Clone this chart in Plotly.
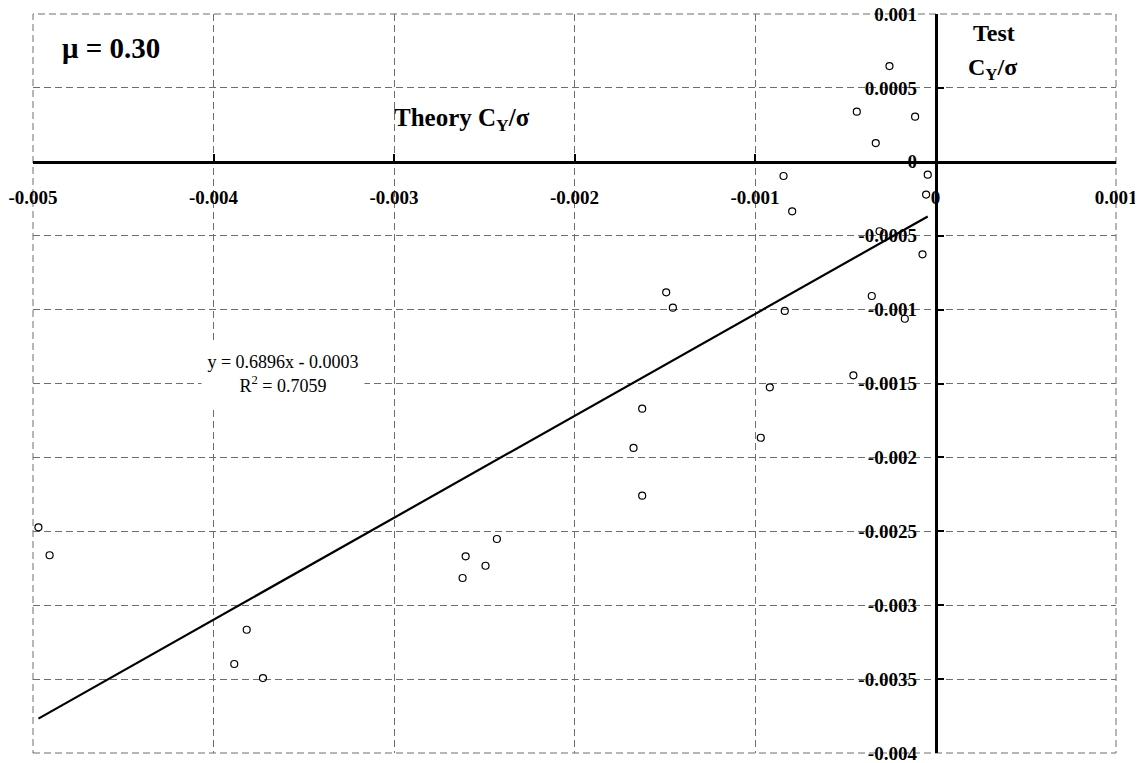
import plotly.graph_objects as go

# Data
theory_x = [-0.000255, -0.000436, -0.000113, -0.000331, -0.000842, -0.000043, -0.000052,
            -0.000794, -0.000310, -0.000072, -0.000353, -0.000835, -0.000170, -0.000455,
            -0.000918, -0.000968, -0.001492, -0.001455, -0.001625, -0.001673, -0.001625,
            -0.004970, -0.004908, -0.003816, -0.003885, -0.003726, -0.002430, -0.002603,
            -0.002493, -0.002620]
test_y = [0.000648, 0.000339, 0.000305, 0.000127, -0.000096, -0.000087, -0.000222,
          -0.000335, -0.000470, -0.000626, -0.000908, -0.001009, -0.001062, -0.001445,
          -0.001526, -0.001867, -0.000883, -0.000987, -0.001670, -0.001936, -0.002259,
          -0.002473, -0.002662, -0.003166, -0.003398, -0.003493, -0.002552, -0.002669,
          -0.002733, -0.002816]

trend_slope = 0.6896
trend_intercept = -0.00034

x_tickvals = [-0.005, -0.004, -0.003, -0.002, -0.001, 0, 0.001]
x_ticktext = ["-0.005", "-0.004", "-0.003", "-0.002", "-0.001", "0", "0.001"]
y_tickvals = [0.001, 0.0005, 0, -0.0005, -0.001, -0.0015, -0.002, -0.0025,
              -0.003, -0.0035, -0.004]
y_ticktext = ["0.001", "0.0005", "0", "-0.0005", "-0.001", "-0.0015", "-0.002",
              "-0.0025", "-0.003", "-0.0035", "-0.004"]

x_range = [-0.005, 0.001]
y_range = [-0.004, 0.001]

trend_x = [min(theory_x), max(theory_x)]
trend_y = [trend_slope * v + trend_intercept for v in trend_x]

serif = "Liberation Serif"
grid_color = "#6e6e6e"
grid_dash = "7px,4px"

# page body has an 8px margin; figure is sized so the plot area lands where the reference has it
ML, MT, PW, PH = 25, 6, 1083, 739

fig = go.Figure()
fig.add_trace(go.Scatter(
    x=trend_x, y=trend_y, mode="lines",
    line=dict(color="black", width=2.2), showlegend=False, hoverinfo="skip"))
fig.add_trace(go.Scatter(
    x=theory_x, y=test_y, mode="markers",
    marker=dict(symbol="circle-open", size=7, color="black", line=dict(width=1.2)),
    showlegend=False))

# position of the crossing axes in plot-area fractions
x_axis_pos = (0 - y_range[0]) / (y_range[1] - y_range[0])
y_axis_pos = (0 - x_range[0]) / (x_range[1] - x_range[0])

grid_common = dict(showgrid=True, gridcolor=grid_color, gridwidth=1, griddash=grid_dash,
                   zeroline=False, showline=True, linecolor="black", linewidth=2.5,
                   ticks="inside", ticklen=7, tickwidth=2, tickcolor="black",
                   automargin=False, ticklabeloverflow="allow",
                   tickfont=dict(family=serif, size=19, color="black", weight="bold"))

frame = dict(type="rect", xref="paper", yref="paper", x0=0, x1=1, y0=0, y1=1,
             line=dict(color=grid_color, width=1, dash=grid_dash), layer="below")


def px(xp):
    return (xp - 33) / PW


def py(yp):
    return 1 - (yp - 12) / PH


fig.update_layout(
    width=ML + PW + 27, height=MT + PH + 12,
    margin=dict(l=ML, r=27, t=MT, b=12),
    plot_bgcolor="white", paper_bgcolor="white",
    shapes=[frame],
    xaxis=dict(range=x_range, tickmode="array", tickvals=x_tickvals, ticktext=x_ticktext,
               anchor="free", position=x_axis_pos, ticklabelstandoff=18, **grid_common),
    yaxis=dict(range=y_range, tickmode="array", tickvals=y_tickvals, ticktext=y_ticktext,
               anchor="free", position=y_axis_pos, ticklabelstandoff=14, **grid_common),
    annotations=[
        dict(text="<b>μ = 0.30</b>", xref="paper", yref="paper", x=px(60), y=py(46),
             xanchor="left", yanchor="middle", showarrow=False,
             font=dict(family=serif, size=29, color="black")),
        dict(text="<b>Theory C<sub>Y</sub>/σ</b>", xref="paper", yref="paper",
             x=px(392), y=py(118), xanchor="left", yanchor="middle",
             showarrow=False, font=dict(family=serif, size=25, color="black")),
        dict(text="<b>Test</b>", xref="paper", yref="paper", x=px(994), y=py(31),
             xanchor="center", yanchor="middle", showarrow=False,
             font=dict(family=serif, size=24, color="black")),
        dict(text="<b>C<sub>Y</sub>/σ</b>", xref="paper", yref="paper", x=px(992), y=py(67),
             xanchor="center", yanchor="middle", showarrow=False,
             font=dict(family=serif, size=24, color="black")),
        dict(text="y = 0.6896x - 0.0003<br>R<sup>2</sup> = 0.7059", xref="paper", yref="paper",
             x=px(283), y=py(372), xanchor="center", yanchor="middle",
             showarrow=False, bgcolor="white", width=160, height=64, align="center",
             font=dict(family=serif, size=18, color="black")),
    ],
)

fig.write_html("out.html")
